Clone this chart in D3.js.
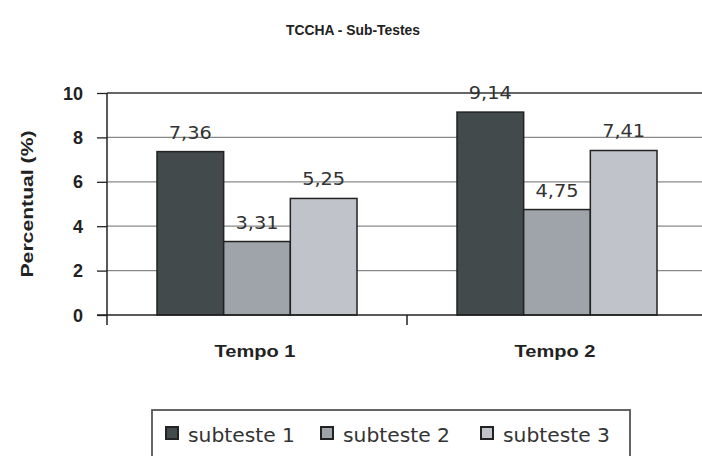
<!DOCTYPE html>
<html><head><meta charset="utf-8">
<script src="https://cdn.jsdelivr.net/npm/d3@7"></script>
<style>body{margin:0;background:#fff}svg{display:block}</style>
</head><body>
<svg id="c" width="702" height="456"></svg>
<script>
const categories = ["Tempo 1", "Tempo 2"];
const seriesNames = ["subteste 1", "subteste 2", "subteste 3"];
const subteste1 = [7.36, 9.14];
const subteste2 = [3.31, 4.75];
const subteste3 = [5.25, 7.41];
const yTicks = [0, 2, 4, 6, 8, 10];
const colors = ["#434a4b", "#9ea4aa", "#c0c3ca"];
const series = [subteste1, subteste2, subteste3];

(function(){
const svg = d3.select("#c");
const pL = 107, pR = 707, pT = 93, pB = 315;
const x0 = d3.scaleBand().domain(categories).range([pL, pR]);
const x1 = d3.scaleBand().domain(seriesNames).range([0, 200]);
const y = d3.scaleLinear().domain([0, 10]).range([pB, pT]);
const bold = "Liberation Sans, Arial, sans-serif";

svg.append("text").attr("x", 353).attr("y", 35).attr("text-anchor", "middle")
  .attr("font-family", bold).attr("font-weight", "bold")
  .attr("font-size", 15).attr("textLength", 134).attr("lengthAdjust", "spacingAndGlyphs")
  .attr("fill", "#222").text("TCCHA - Sub-Testes");

// gridlines
svg.append("g").selectAll("line").data(yTicks.filter(d => d > 0)).join("line")
  .attr("x1", pL).attr("x2", 702).attr("y1", d => y(d)).attr("y2", d => y(d))
  .attr("stroke", d => d === 10 ? "#333" : "#888").attr("stroke-width", 1.3);

// y axis
const yAxis = svg.append("g").attr("transform", `translate(${pL},0)`)
  .call(d3.axisLeft(y).tickValues(yTicks).tickSize(10).tickPadding(14).tickFormat(d3.format("d")));
yAxis.select(".domain").remove();
yAxis.selectAll(".tick line").attr("stroke", "#222").attr("stroke-width", 1.3);
yAxis.selectAll("text").attr("font-family", bold).attr("font-weight", "bold")
  .attr("font-size", 18).attr("fill", "#222").attr("dy", "0.34em");
svg.append("line").attr("x1", pL).attr("x2", pL).attr("y1", pT).attr("y2", pB + 10)
  .attr("stroke", "#222").attr("stroke-width", 1.5);

// bars
const groups = svg.append("g").selectAll("g").data(categories).join("g")
  .attr("transform", c => `translate(${x0(c) + (x0.bandwidth() - 200) / 2},0)`);
groups.each(function(c, ci) {
  const g = d3.select(this);
  seriesNames.forEach((s, si) => {
    const v = series[si][ci];
    g.append("rect").attr("x", x1(s)).attr("width", x1.bandwidth())
      .attr("y", y(v)).attr("height", y(0) - y(v))
      .attr("fill", colors[si]).attr("stroke", "#222").attr("stroke-width", 1.5);
    g.append("text").attr("x", x1(s) + x1.bandwidth() / 2).attr("y", y(v) - 13)
      .attr("text-anchor", "middle").attr("font-family", "DejaVu Sans")
      .attr("font-size", 18).attr("textLength", 43).attr("lengthAdjust", "spacingAndGlyphs")
      .attr("fill", "#333")
      .text(d3.format(".2f")(v).replace(".", ","));
  });
});

// x axis
svg.append("line").attr("x1", pL - 10).attr("x2", 702).attr("y1", pB).attr("y2", pB)
  .attr("stroke", "#222").attr("stroke-width", 1.5);
svg.append("line").attr("x1", x0(categories[1])).attr("x2", x0(categories[1]))
  .attr("y1", pB).attr("y2", pB + 10).attr("stroke", "#222").attr("stroke-width", 1.5);
svg.append("g").selectAll("text").data(categories).join("text")
  .attr("x", c => x0(c) + x0.bandwidth() / 2 - 2).attr("y", 357).attr("text-anchor", "middle")
  .attr("font-family", bold).attr("font-weight", "bold")
  .attr("font-size", 17).attr("textLength", 81).attr("lengthAdjust", "spacingAndGlyphs")
  .attr("fill", "#222").text(c => c);

// y label
svg.append("text").attr("transform", "translate(33,204) rotate(-90)").attr("text-anchor", "middle")
  .attr("font-family", bold).attr("font-weight", "bold")
  .attr("font-size", 17).attr("textLength", 147).attr("lengthAdjust", "spacingAndGlyphs")
  .attr("fill", "#222").text("Percentual (%)");

// legend
svg.append("rect").attr("x", 152).attr("y", 410).attr("width", 478).attr("height", 60)
  .attr("fill", "none").attr("stroke", "#555").attr("stroke-width", 1.8);
const legX = [166, 321, 481];
const leg = svg.append("g").selectAll("g").data(seriesNames).join("g")
  .attr("transform", (d, i) => `translate(${legX[i]},0)`);
leg.append("rect").attr("x", 0).attr("y", 427).attr("width", 12).attr("height", 12)
  .attr("fill", (d, i) => colors[i]).attr("stroke", "#222").attr("stroke-width", 2);
leg.append("text").attr("x", 22).attr("y", 442).attr("font-family", "DejaVu Sans")
  .attr("font-size", 19).attr("textLength", 107).attr("lengthAdjust", "spacingAndGlyphs")
  .attr("fill", "#333").text(d => d);
})();
</script>
</body></html>
